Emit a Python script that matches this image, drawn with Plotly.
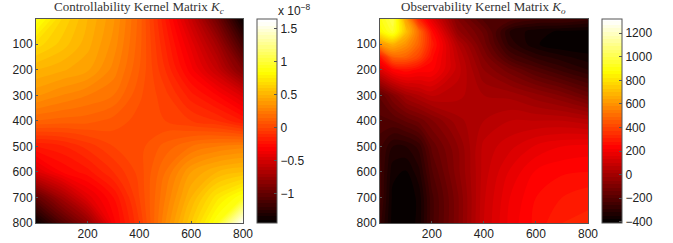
import plotly.graph_objects as go

# Controllability kernel matrix (units of 1e-8)
kc_axis = [1, 100, 200, 300, 400, 500, 600, 700, 800]
kc_values = [
    [0.90, 0.65, 0.50, 0.36, 0.13, -0.20, -0.55, -0.94, -1.42],
    [0.68, 0.58, 0.47, 0.33, 0.12, -0.15, -0.42, -0.72, -1.15],
    [0.50, 0.46, 0.41, 0.28, 0.10, -0.10, -0.33, -0.56, -0.88],
    [0.36, 0.30, 0.25, 0.20, 0.06, -0.03, -0.18, -0.30, -0.47],
    [0.15, 0.13, 0.12, 0.08, 0.03, 0.00, -0.05, -0.10, -0.20],
    [-0.20, -0.16, -0.08, 0.00, 0.03, 0.12, 0.20, 0.25, 0.28],
    [-0.46, -0.30, -0.22, -0.10, 0.02, 0.20, 0.40, 0.50, 0.55],
    [-1.02, -0.72, -0.43, -0.25, 0.00, 0.25, 0.50, 0.73, 0.90],
    [-1.42, -1.09, -0.80, -0.32, -0.05, 0.30, 0.60, 0.90, 1.62],
]
# Observability kernel matrix
ko_axis = [1, 50, 100, 150, 200, 300, 400, 500, 600, 700, 800]
ko_values = [
    [900, 1000, 640, 320, 160, -85, -210, -210, -250, -250, -280],
    [850, 950, 720, 500, 260, -40, -150, -320, -370, -385, -390],
    [600, 680, 600, 480, 300, 40, -125, -300, -375, -410, -405],
    [280, 480, 480, 400, 260, 75, -85, -230, -300, -340, -370],
    [140, 240, 270, 240, 230, 85, -50, -130, -210, -270, -320],
    [-165, -80, 0, 40, 75, 50, 10, 0, -40, -85, -150],
    [-210, -200, -165, -130, -85, 0, 40, 70, 70, 70, 50],
    [-250, -320, -320, -280, -160, -50, 80, 120, 165, 190, 200],
    [-250, -370, -385, -330, -205, -60, 85, 165, 225, 245, 250],
    [-250, -390, -410, -370, -240, -85, 95, 190, 250, 280, 300],
    [-280, -395, -405, -370, -240, -85, 100, 200, 260, 310, 320],
]
x_ticks = [200, 400, 600, 800]
y_ticks = [100, 200, 300, 400, 500, 600, 700, 800]
kc_cb_ticks = [-1, -0.5, 0, 0.5, 1, 1.5]
kc_cb_labels = ["−1", "−0.5", "0", "0.5", "1", "1.5"]
ko_cb_ticks = [-400, -200, 0, 200, 400, 600, 800, 1000, 1200]
kc_title = "Controllability Kernel Matrix <i>K<sub>c</sub></i>"
ko_title = "Observability Kernel Matrix <i>K<sub>o</sub></i>"

W, H = 673, 243
HOT = [[0, "#000000"], [0.375, "#ff0000"], [0.75, "#ffff00"], [1, "#ffffff"]]
FONT = "Liberation Sans"
INK = "#222222"
FRAME = "#555555"
top, bottom = 19, 223


def cbar(x, ticks, labels=None):
    d = dict(x=x / W, xanchor="left", xpad=0, y=1 - (top + bottom) / 2 / H, yanchor="middle", ypad=0,
             len=(bottom - top) / H, lenmode="fraction", thickness=20, thicknessmode="pixels",
             tickvals=ticks, ticks="inside", ticklen=3, tickcolor=FRAME, outlinecolor=FRAME, outlinewidth=1,
             tickfont=dict(family=FONT, size=12, color=INK))
    if labels:
        d["ticktext"] = labels
    return d


fig = go.Figure()
fig.add_trace(go.Contour(x=kc_axis, y=kc_axis, z=kc_values, colorscale=HOT, zmin=-1.45, zmax=1.65, zauto=False,
                         autocontour=False, contours=dict(start=-1.45, end=1.65, size=0.05, coloring="fill"),
                         line=dict(width=0), colorbar=cbar(257, kc_cb_ticks, kc_cb_labels), xaxis="x", yaxis="y"))
fig.add_trace(go.Contour(x=ko_axis, y=ko_axis, z=ko_values, colorscale=HOT, zmin=-410, zmax=1320, zauto=False,
                         autocontour=False, contours=dict(start=-410, end=1320, size=30, coloring="fill"),
                         line=dict(width=0), colorbar=cbar(602, ko_cb_ticks), xaxis="x2", yaxis="y2"))


def xa(l, r):
    return dict(domain=[l / W, r / W], range=[1, 800], tickvals=x_ticks, ticks="inside", ticklen=2, mirror=True,
                showline=True, linecolor=FRAME, linewidth=1, showgrid=False, zeroline=False, tickcolor=FRAME,
                tickfont=dict(family=FONT, size=12, color=INK))


def ya(anchor):
    return dict(domain=[1 - bottom / H, 1 - top / H], range=[800, 1], tickvals=y_ticks, ticks="inside", ticklen=2,
                mirror=True, showline=True, linecolor=FRAME, linewidth=1, showgrid=False, zeroline=False,
                tickcolor=FRAME, anchor=anchor, tickfont=dict(family=FONT, size=12, color=INK))


def title(text, x):
    return dict(text=text, x=x / W, y=1 - 8 / H, xref="paper", yref="paper", showarrow=False, xanchor="center",
                yanchor="middle", font=dict(family="Liberation Serif", size=13, color="#333333"))


fig.update_layout(
    width=W, height=H, margin=dict(l=0, r=0, t=0, b=0, autoexpand=False), paper_bgcolor="white", plot_bgcolor="white",
    showlegend=False,
    xaxis=xa(36, 243), yaxis=ya("x"), xaxis2=dict(xa(380, 588), anchor="y2"), yaxis2=ya("x2"),
    annotations=[
        title(kc_title, 139), title(ko_title, 483),
        dict(text="x 10<sup>−8</sup>", x=276 / W, y=1 - 10 / H, xref="paper", yref="paper", showarrow=False,
             xanchor="left", yanchor="middle", font=dict(family=FONT, size=12, color=INK)),
    ],
)
fig.write_html("out.html", config=dict(displayModeBar=False),
               post_script="document.body.style.margin='0';document.body.style.overflow='hidden';")
